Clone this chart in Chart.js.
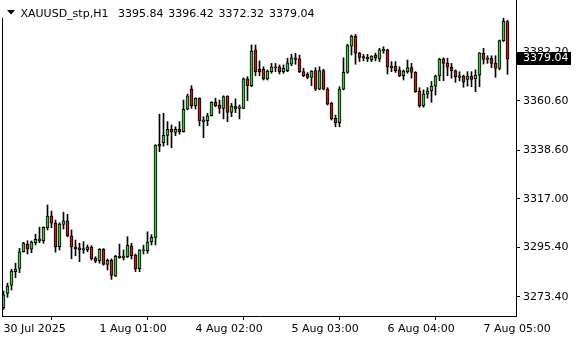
<!DOCTYPE html>
<html>
<head>
<meta charset="utf-8">
<script src="https://cdn.jsdelivr.net/npm/chart.js@4.4.1/dist/chart.umd.min.js"></script>
<style>
  html, body { margin: 0; padding: 0; background: #fff; }
  #wrap { width: 580px; height: 340px; }
</style>
</head>
<body>
<div id="wrap"><canvas id="chart" width="580" height="340"></canvas></div>
<script>
const symbol = "XAUUSD_stp,H1";

// hourly bars, oldest first
const opens = [
  3268.5, 3274.9, 3278.5, 3284.5, 3286.0, 3293.4, 3296.8, 3294.5, 3297.4, 3298.2,
  3298.2, 3304.1, 3309.3, 3306.1, 3295.6, 3305.6, 3307.1, 3300.5, 3295.5, 3295.1,
  3294.2, 3294.3, 3295.5, 3290.6, 3289.4, 3294.5, 3287.8, 3289.6, 3282.5, 3291.4,
  3290.8, 3291.2, 3296.0, 3291.8, 3285.9, 3293.9, 3293.9, 3297.9, 3299.8, 3341.3,
  3341.9, 3345.2, 3347.9, 3346.5, 3347.9, 3346.8, 3356.8, 3365.8, 3358.4, 3361.7,
  3351.3, 3351.7, 3353.9, 3359.9, 3358.7, 3357.2, 3362.7, 3355.4, 3358.2, 3357.2,
  3357.2, 3370.3, 3367.3, 3383.2, 3374.6, 3374.6, 3370.3, 3373.5, 3375.3, 3375.7,
  3373.5, 3374.0, 3376.9, 3379.7, 3379.2, 3373.5, 3372.3, 3371.0, 3374.0, 3365.7,
  3374.0, 3365.8, 3359.4, 3352.8, 3350.8, 3365.7, 3373.2, 3384.9, 3389.4, 3381.7,
  3380.2, 3379.9, 3378.7, 3380.9, 3379.2, 3382.7, 3383.2, 3375.3, 3376.0, 3374.3,
  3371.7, 3373.5, 3375.3, 3373.2, 3364.9, 3358.4, 3363.5, 3364.9, 3367.1, 3371.6,
  3379.2, 3377.2, 3375.5, 3374.0, 3371.0, 3371.6, 3370.1, 3371.6, 3370.3, 3372.0,
  3381.7, 3379.0, 3379.5, 3377.2, 3375.0, 3387.3, 3395.84
];
const highs = [
  3275.9, 3279.4, 3285.6, 3288.3, 3294.9, 3297.6, 3298.3, 3298.2, 3301.2, 3304.3,
  3304.5, 3314.2, 3311.5, 3307.5, 3306.3, 3311.0, 3310.1, 3303.1, 3298.6, 3297.2,
  3297.9, 3296.4, 3296.1, 3291.2, 3294.8, 3294.8, 3290.2, 3290.3, 3291.8, 3296.8,
  3294.2, 3300.1, 3297.2, 3292.4, 3294.3, 3296.3, 3302.3, 3301.0, 3341.0, 3354.6,
  3355.0, 3351.3, 3349.8, 3349.0, 3351.3, 3360.9, 3363.5, 3367.3, 3361.9, 3361.9,
  3353.5, 3355.0, 3360.2, 3361.7, 3360.9, 3362.8, 3362.8, 3359.4, 3361.4, 3358.7,
  3370.8, 3371.3, 3385.4, 3385.4, 3378.3, 3375.7, 3374.3, 3377.2, 3377.2, 3376.5,
  3376.5, 3379.5, 3381.2, 3381.7, 3380.9, 3375.0, 3373.1, 3374.0, 3375.3, 3375.7,
  3374.6, 3366.4, 3359.9, 3354.2, 3366.8, 3379.7, 3385.7, 3389.8, 3390.1, 3382.1,
  3381.2, 3381.2, 3380.6, 3381.8, 3383.9, 3384.6, 3383.5, 3378.0, 3378.0, 3375.7,
  3374.3, 3378.7, 3377.2, 3373.5, 3366.4, 3365.4, 3366.4, 3369.1, 3372.0, 3379.5,
  3379.7, 3379.5, 3377.2, 3374.3, 3373.5, 3372.0, 3373.5, 3373.5, 3374.3, 3382.0,
  3383.9, 3380.6, 3380.6, 3380.6, 3387.6, 3397.3, 3396.42
];
const lows = [
  3267.8, 3273.1, 3276.4, 3281.9, 3284.1, 3293.2, 3292.4, 3293.0, 3296.4, 3297.4,
  3297.2, 3303.1, 3304.1, 3293.2, 3294.2, 3303.5, 3300.1, 3290.3, 3291.6, 3289.0,
  3292.7, 3293.4, 3289.7, 3288.5, 3288.3, 3287.4, 3285.3, 3281.1, 3282.3, 3290.5,
  3289.7, 3290.8, 3290.2, 3284.5, 3284.5, 3292.4, 3292.7, 3296.4, 3296.4, 3337.9,
  3340.4, 3340.9, 3339.7, 3345.0, 3345.7, 3346.6, 3356.5, 3357.2, 3356.9, 3349.5,
  3344.1, 3349.5, 3353.8, 3357.9, 3355.0, 3352.5, 3351.3, 3353.5, 3355.3, 3352.5,
  3357.0, 3360.6, 3366.8, 3371.7, 3371.7, 3369.8, 3369.8, 3372.8, 3373.5, 3372.5,
  3372.8, 3373.5, 3376.2, 3376.8, 3373.1, 3371.3, 3370.3, 3367.3, 3365.1, 3365.4,
  3365.4, 3358.7, 3352.0, 3349.0, 3349.0, 3365.4, 3372.8, 3380.9, 3376.8, 3378.0,
  3378.3, 3378.0, 3378.0, 3378.3, 3378.0, 3381.7, 3372.5, 3373.5, 3373.2, 3371.3,
  3369.8, 3372.8, 3370.6, 3364.3, 3357.7, 3357.7, 3361.7, 3359.9, 3363.1, 3369.5,
  3369.5, 3371.7, 3370.6, 3368.8, 3369.4, 3366.6, 3367.1, 3366.8, 3364.6, 3366.8,
  3376.9, 3377.2, 3375.3, 3371.0, 3374.3, 3386.9, 3372.32
];
const closes = [
  3274.2, 3278.2, 3284.8, 3285.7, 3293.4, 3297.3, 3294.5, 3297.7, 3298.9, 3299.1,
  3304.3, 3309.3, 3306.1, 3295.6, 3305.7, 3307.1, 3300.5, 3295.6, 3294.8, 3294.3,
  3294.8, 3295.5, 3290.3, 3289.2, 3294.5, 3287.8, 3289.6, 3282.9, 3291.4, 3290.8,
  3291.5, 3296.4, 3291.6, 3285.9, 3294.2, 3294.3, 3297.7, 3299.8, 3340.8, 3340.4,
  3345.2, 3347.9, 3346.7, 3347.9, 3346.8, 3356.8, 3362.8, 3358.4, 3361.7, 3351.7,
  3352.0, 3353.9, 3359.9, 3358.4, 3357.2, 3362.4, 3355.4, 3358.2, 3356.9, 3357.9,
  3370.3, 3367.3, 3382.7, 3373.5, 3373.5, 3370.3, 3373.8, 3375.7, 3375.7, 3373.5,
  3375.0, 3377.5, 3379.7, 3379.0, 3373.5, 3371.7, 3371.0, 3373.8, 3365.7, 3374.0,
  3365.7, 3359.1, 3352.5, 3350.8, 3365.8, 3373.2, 3385.1, 3389.4, 3381.7, 3379.9,
  3379.5, 3379.2, 3380.5, 3379.5, 3383.2, 3383.5, 3375.5, 3376.0, 3374.0, 3371.7,
  3373.8, 3375.3, 3373.2, 3364.6, 3358.4, 3363.6, 3364.9, 3367.1, 3371.6, 3379.0,
  3377.2, 3375.5, 3374.0, 3371.3, 3371.7, 3368.8, 3371.6, 3370.1, 3372.0, 3381.9,
  3379.0, 3379.7, 3377.2, 3375.0, 3387.3, 3395.9, 3379.04
];

const priceTicks = [3273.40, 3295.40, 3317.00, 3338.60, 3360.60, 3382.20];
const timeTickBars = [0, 24, 48, 72, 96, 120];
const timeLabels = ["30 Jul 2025", "1 Aug 01:00", "4 Aug 02:00", "5 Aug 03:00", "6 Aug 04:00", "7 Aug 05:00"];

const upColor = "#33cc33";
const downColor = "#d41414";
const n = opens.length;
const last = n - 1;

Chart.defaults.font.family = "'DejaVu Sans', sans-serif";
Chart.defaults.font.size = 11;
Chart.defaults.color = "#000";

const terminalDecor = {
  id: "terminalDecor",
  afterDraw(chart) {
    const ctx = chart.ctx;
    const y = chart.scales.y;
    const area = chart.chartArea;
    ctx.save();

    // left frame line
    ctx.strokeStyle = "#000";
    ctx.lineWidth = 1;
    ctx.beginPath();
    ctx.moveTo(area.left + 0.5, 18);
    ctx.lineTo(area.left + 0.5, area.bottom + 0.5);
    ctx.stroke();

    // header: menu arrow, symbol and last bar OHLC
    ctx.fillStyle = "#000";
    ctx.beginPath();
    ctx.moveTo(7, 10);
    ctx.lineTo(15, 10);
    ctx.lineTo(11, 14.5);
    ctx.closePath();
    ctx.fill();
    ctx.font = "11px 'DejaVu Sans'";
    ctx.textBaseline = "alphabetic";
    ctx.textAlign = "left";
    ctx.fillText(symbol, 20.5, 16.5);
    const ohlc = [opens[last], highs[last], lows[last], closes[last]];
    ohlc.forEach((v, k) => ctx.fillText(v.toFixed(2), 118 + k * 50.3, 16.5));

    // current price marker on the axis
    const py = Math.round(y.getPixelForValue(closes[last]));
    ctx.fillStyle = "#000";
    ctx.fillRect(area.right, py - 7, 55, 13);
    ctx.fillStyle = "#fff";
    ctx.textBaseline = "middle";
    ctx.fillText(closes[last].toFixed(2), area.right + 7, py - 0.5);
    ctx.restore();
  }
};

const idx = opens.map((_, i) => i);

new Chart(document.getElementById("chart"), {
  type: "bar",
  data: {
    datasets: [
      {
        label: "body",
        data: idx.map(i => ({ x: i, y: [opens[i], closes[i]] })),
        backgroundColor: c => (closes[c.dataIndex] >= opens[c.dataIndex] ? upColor : downColor),
        borderColor: "#000",
        borderWidth: 1,
        borderSkipped: false,
        barThickness: 3,
        grouped: false,
        order: 1
      },
      {
        label: "wick",
        data: idx.map(i => ({ x: i, y: [lows[i], highs[i]] })),
        backgroundColor: "#000",
        borderWidth: 0,
        barThickness: 1,
        grouped: false,
        order: 2
      }
    ]
  },
  options: {
    responsive: false,
    animation: false,
    devicePixelRatio: 1,
    layout: { padding: { left: 2, top: 0, right: 0, bottom: 0 } },
    plugins: { legend: { display: false }, tooltip: { enabled: false } },
    scales: {
      x: {
        type: "linear",
        min: -0.375,
        max: 128.125,
        bounds: "data",
        offset: false,
        grid: { drawOnChartArea: false, drawTicks: true, tickLength: 4, color: "#000" },
        border: { display: true, color: "#000", width: 1 },
        ticks: {
          autoSkip: false,
          maxRotation: 0,
          align: "start",
          padding: 3,
          color: "#000",
          callback: (v, i) => timeLabels[i]
        },
        afterBuildTicks: s => { s.ticks = timeTickBars.map(v => ({ value: v })); },
        afterFit: s => { s.height = 24; s.paddingLeft = 0; s.paddingRight = 0; }
      },
      y: {
        position: "right",
        min: 3264.81,
        max: 3405.40,
        bounds: "data",
        grid: { drawOnChartArea: false, drawTicks: true, tickLength: 4, color: "#000" },
        border: { display: true, color: "#000", width: 1 },
        ticks: {
          padding: 3,
          color: "#000",
          callback: v => v.toFixed(2)
        },
        afterBuildTicks: s => { s.ticks = priceTicks.map(v => ({ value: v })); },
        afterFit: s => { s.width = 64; s.paddingTop = 0; s.paddingBottom = 0; }
      }
    }
  },
  plugins: [terminalDecor]
});
</script>
</body>
</html>
